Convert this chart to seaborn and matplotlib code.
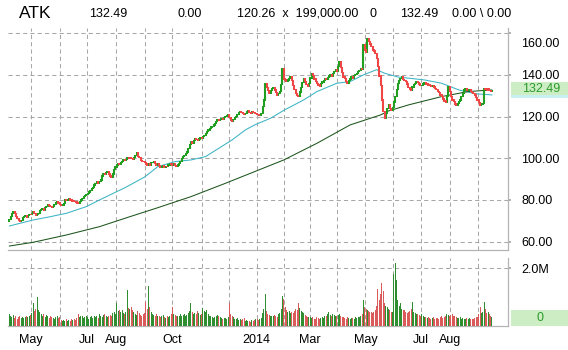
import numpy as np
import pandas as pd
import matplotlib
matplotlib.use("Agg")
import matplotlib.pyplot as plt
from matplotlib.patches import Rectangle
from matplotlib.transforms import ScaledTranslation
import seaborn as sns

# ---------------- data ----------------
ticker = "ATK"
header_values = ["132.49", "0.00", "120.26  x  199,000.00", "0", "132.49", "0.00 \\ 0.00"]
last_price = 132.49
last_volume = 0

holidays = ["2013-05-27", "2013-07-04", "2013-09-02", "2013-11-28", "2013-12-25",
            "2014-01-01", "2014-01-20", "2014-02-17", "2014-04-18", "2014-05-26",
            "2014-07-04", "2014-09-01"]

close_apr13 = [70.5, 72.0, 73.5, 74.3, 73.6, 72.2, 71.0, 70.2, 69.6, 70.3, 71.5, 72.0, 72.6, 71.8, 72.5, 73.2, 73.0]
close_may13 = [73.6, 74.2, 73.5, 72.8, 73.0, 73.4, 74.8, 75.5, 76.0, 75.2, 76.4, 77.0, 77.6, 77.2, 76.8, 76.3, 77.0, 77.8, 78.5, 79.0, 78.6, 78.0]
close_jun13 = [77.5, 77.6, 78.4, 80.0, 79.6, 80.2, 80.5, 80.0, 79.5, 79.8, 79.3, 79.0, 78.6, 78.4, 79.2, 80.0, 80.8, 81.6, 82.0, 82.6]
close_jul13 = [83.0, 83.8, 84.5, 85.6, 86.0, 87.2, 87.8, 88.8, 88.2, 89.0, 89.6, 91.5, 92.8, 92.2, 93.0, 93.6, 92.4, 91.5, 91.0, 92.5, 94.5, 95.8]
close_aug13 = [96.8, 97.5, 97.0, 98.0, 98.4, 99.2, 98.8, 99.5, 100.2, 99.8, 100.5, 100.0, 99.5, 100.4, 101.5, 102.8, 101.0, 100.2, 99.0, 98.5, 98.4, 97.8]
close_sep13 = [97.2, 96.8, 97.5, 96.5, 97.8, 98.0, 98.4, 97.6, 96.8, 97.2, 96.4, 95.8, 96.0, 96.5, 95.6, 96.2, 96.0, 96.8, 97.6, 97.2]
close_oct13 = [96.5, 97.2, 96.6, 96.0, 96.8, 97.5, 98.6, 100.0, 100.8, 101.5, 102.2, 103.0, 104.8, 106.5, 108.0, 107.2, 108.4, 109.6, 109.0, 108.6, 109.2, 110.0, 109.6]
close_nov13 = [110.4, 111.0, 112.0, 112.8, 113.6, 114.2, 115.0, 115.4, 116.0, 116.8, 117.6, 118.4, 118.0, 118.6, 119.0, 118.5, 119.4, 120.2, 120.5, 120.8]
close_dec13 = [119.5, 118.2, 117.6, 118.5, 119.4, 120.0, 121.0, 121.8, 122.4, 122.0, 121.5, 121.2, 121.6, 122.3, 122.8, 122.0, 121.6, 122.2, 122.0, 121.4, 121.6]
close_jan14 = [121.0, 120.5, 120.8, 121.5, 124.8, 128.0, 136.0, 134.0, 132.5, 131.0, 132.4, 133.6, 134.0, 132.8, 131.6, 130.4, 131.2, 132.0, 135.5, 143.0, 138.0]
close_feb14 = [137.5, 136.8, 137.6, 138.4, 139.0, 137.2, 135.0, 133.0, 131.0, 130.2, 129.6, 131.8, 134.0, 136.5, 138.4, 136.8, 135.5, 134.4, 136.0]
close_mar14 = [138.5, 140.8, 139.6, 138.0, 137.0, 136.0, 135.2, 134.4, 135.8, 136.6, 137.2, 138.4, 137.8, 138.8, 139.5, 140.0, 139.2, 140.6, 141.8, 142.4, 141.6]
close_apr14 = [144.0, 146.4, 143.5, 141.0, 139.0, 138.2, 137.0, 136.0, 137.2, 138.0, 139.0, 138.4, 139.6, 140.2, 140.8, 141.5, 142.2, 143.0, 142.6, 154.4, 152.0]
close_may14 = [151.0, 157.6, 156.0, 154.8, 153.6, 152.0, 151.5, 150.4, 148.0, 144.0, 139.5, 135.0, 128.0, 122.4, 119.0, 121.5, 124.0, 125.6, 124.0, 123.0, 124.5]
close_jun14 = [127.0, 129.6, 133.0, 136.0, 137.2, 138.4, 139.0, 137.8, 137.2, 136.8, 135.6, 134.0, 133.2, 132.8, 134.2, 135.4, 136.0, 136.8, 136.2, 135.6, 135.0]
close_jul14 = [135.0, 135.6, 136.2, 135.4, 136.0, 135.2, 134.8, 134.4, 135.0, 134.2, 133.6, 133.0, 132.2, 131.5, 130.4, 129.6, 128.4, 127.5, 127.0, 129.5, 134.4, 132.0]
close_aug14 = [129.5, 128.0, 127.2, 126.0, 125.6, 126.4, 127.2, 128.0, 129.5, 131.0, 132.8, 133.4, 132.6, 132.8, 133.0, 132.2, 131.6, 131.0, 130.4, 129.2, 128.0]
close_sep14 = [126.8, 125.6, 126.0, 126.4, 133.6, 133.2, 132.8, 133.4, 132.6, 132.0, 132.49]

# volume in thousands of shares
vol_apr13 = [420, 350, 300, 380, 290, 330, 260, 310, 350, 280, 300, 270, 320, 360, 300, 340, 380]
vol_may13 = [450, 785, 520, 600, 1000, 550, 480, 400, 350, 420, 300, 380, 330, 290, 350, 310, 280, 260, 300, 340, 280, 320]
vol_jun13 = [200, 180, 220, 160, 240, 190, 210, 170, 230, 200, 260, 220, 280, 400, 300, 350, 330, 280, 310, 360]
vol_jul13 = [320, 250, 300, 350, 280, 330, 300, 360, 290, 400, 340, 310, 380, 420, 350, 300, 330, 390, 360, 450, 500, 430]
vol_aug13 = [785, 520, 560, 480, 540, 450, 420, 500, 1250, 620, 580, 670, 560, 480, 420, 390, 520, 440, 380, 360, 410, 450]
vol_sep13 = [850, 600, 1400, 650, 480, 420, 380, 350, 400, 330, 360, 300, 340, 380, 320, 290, 350, 310, 360, 400]
vol_oct13 = [670, 420, 380, 350, 330, 360, 400, 340, 380, 420, 360, 390, 450, 520, 785, 480, 430, 440, 400, 520, 460, 380, 420]
vol_nov13 = [610, 520, 480, 550, 420, 360, 340, 300, 270, 320, 350, 380, 330, 300, 280, 260, 290, 270, 250, 300]
vol_dec13 = [785, 420, 350, 300, 260, 240, 280, 220, 250, 200, 230, 270, 180, 210, 190, 160, 150, 200, 170, 220, 240]
vol_jan14 = [250, 200, 230, 280, 450, 600, 1100, 520, 400, 380, 350, 330, 360, 380, 340, 320, 400, 450, 600, 1050, 950]
vol_feb14 = [650, 550, 480, 520, 440, 500, 460, 520, 600, 560, 785, 640, 520, 480, 440, 380, 350, 300, 320]
vol_mar14 = [300, 280, 320, 260, 240, 300, 280, 250, 270, 310, 290, 330, 350, 420, 500, 380, 360, 400, 380, 350, 330]
vol_apr14 = [380, 420, 350, 300, 320, 280, 260, 300, 280, 250, 270, 290, 260, 300, 280, 320, 300, 350, 400, 900, 650]
vol_may14 = [600, 550, 520, 500, 480, 450, 500, 550, 700, 1300, 900, 1100, 1500, 1200, 800, 700, 650, 600, 550, 500, 480]
vol_jun14 = [1800, 2200, 1600, 900, 700, 785, 600, 550, 550, 480, 450, 500, 520, 600, 850, 500, 450, 400, 420, 380, 350]
vol_jul14 = [400, 350, 300, 320, 280, 300, 270, 260, 280, 300, 250, 270, 290, 260, 300, 330, 280, 320, 350, 400, 380, 330]
vol_aug14 = [380, 400, 350, 330, 300, 280, 270, 300, 260, 280, 250, 240, 270, 260, 280, 250, 230, 260, 280, 300, 320]
vol_sep14 = [400, 670, 450, 500, 850, 600, 450, 500, 400, 350, 300]

# moving averages (session number, value)
ma50_day = [0, 8, 18, 31, 43, 58, 68, 81, 87, 102, 112, 125, 137, 148, 158, 168, 178, 185,
            197, 207, 222, 232, 247, 257, 267, 277, 283, 293, 313, 326, 339, 351, 364]
ma50_val = [67.5, 68.8, 70.4, 72.0, 73.6, 76.8, 80.0, 84.0, 85.8, 91.0, 96.0, 98.4, 99.2, 100.8, 104.8, 108.8, 113.6, 116.0,
            119.2, 123.0, 128.0, 132.0, 136.0, 136.8, 140.0, 142.5, 140.8, 139.0, 137.6, 136.0, 132.8, 131.0, 130.4]
ma200_day = [0, 18, 43, 68, 91, 112, 137, 163, 185, 207, 232, 257, 280, 286, 301, 326, 346, 364]
ma200_val = [57.9, 59.7, 63.2, 67.2, 72.0, 76.3, 81.6, 88.0, 93.6, 99.2, 107.2, 116.0, 120.8, 122.7, 125.6, 129.6, 132.0, 132.8]

month_labels = ["May", "", "Jul", "Aug", "", "Oct", "", "", "2014", "", "Mar", "", "May", "", "Jul", "Aug", ""]
price_ticks = [60, 80, 100, 120, 140, 160]

# ---------------- build ----------------
closes = np.array(close_apr13 + close_may13 + close_jun13 + close_jul13 + close_aug13 + close_sep13
                  + close_oct13 + close_nov13 + close_dec13 + close_jan14 + close_feb14 + close_mar14
                  + close_apr14 + close_may14 + close_jun14 + close_jul14 + close_aug14 + close_sep14)
vols = np.array(vol_apr13 + vol_may13 + vol_jun13 + vol_jul13 + vol_aug13 + vol_sep13
                + vol_oct13 + vol_nov13 + vol_dec13 + vol_jan14 + vol_feb14 + vol_mar14
                + vol_apr14 + vol_may14 + vol_jun14 + vol_jul14 + vol_aug14 + vol_sep14) * 1000.0

dates = pd.bdate_range("2013-04-08", "2014-09-16")
dates = dates[~dates.isin(pd.to_datetime(holidays))]
n = len(closes)
dates = dates[:n]
idx = np.arange(n)
opens = np.concatenate([[closes[0] - 0.8], closes[:-1]])
up = closes >= opens

GREEN = "#1f9e1f"
RED = "#f04646"
GRID = "#a8a8a8"
SPINE = "#b4b4b4"

df = pd.DataFrame({"session": idx, "open": opens, "close": closes, "volume": vols,
                   "dir": np.where(up, "up", "down")})

month_start = [i for i in range(1, n) if dates[i].month != dates[i - 1].month]

sns.set_theme(style="white")
plt.rcParams["font.family"] = ["Liberation Sans", "DejaVu Sans"]

W, H = 568, 350
fig = plt.figure(figsize=(W / 100, H / 100), dpi=100)
fig.patch.set_facecolor("white")

def px_box(l, t, r, b):
    return [l / W, (H - b) / H, (r - l) / W, (b - t) / H]

ax = fig.add_axes(px_box(8, 28, 507.5, 250))
axv = fig.add_axes(px_box(8, 258, 507.5, 326), sharex=ax)

dash = (0, (4, 3))
for a in (ax, axv):
    for s in ("left", "top"):
        a.spines[s].set_visible(False)
    for s in ("right", "bottom"):
        a.spines[s].set_color(SPINE)
        a.spines[s].set_linewidth(0.9)
    a.set_facecolor("white")
    a.yaxis.tick_right()
    a.tick_params(axis="y", length=2, color=GRID, pad=8, labelsize=9, labelcolor="black")
    a.tick_params(axis="x", length=0, pad=6, labelsize=9, labelcolor="black")
    for m in month_start:
        a.axvline(m - 0.5, color=GRID, lw=0.75, ls=dash, zorder=0)

# price panel
for p in price_ticks:
    ax.axhline(p, color=GRID, lw=0.75, ls=dash, zorder=0)
ax.vlines(df.loc[up, "session"], df.loc[up, "open"] - 0.3, df.loc[up, "close"] + 0.3, color=GREEN, lw=1.5, zorder=3)
ax.vlines(df.loc[~up, "session"], df.loc[~up, "close"] - 0.3, df.loc[~up, "open"] + 0.3, color=RED, lw=1.5, zorder=3)
sns.lineplot(x=ma50_day, y=ma50_val, color="#3cb4c4", lw=0.75, ax=ax, zorder=2)
sns.lineplot(x=ma200_day, y=ma200_val, color="#1c551c", lw=0.75, ax=ax, zorder=2)
ax.set_xlim(-0.98, 375.7)
ax.set_ylim(56.0, 162.5)
ax.set_yticks(price_ticks)
ax.set_yticklabels([f"{p:.2f}" for p in price_ticks])
lab160 = ax.get_yticklabels()[-1]
lab160.set_transform(lab160.get_transform() + ScaledTranslation(0, -9.5 / 100, fig.dpi_scale_trans))
ax.tick_params(axis="x", labelbottom=False)
ax.set_xlabel("")
ax.set_ylabel("")

# volume panel
axv.axhline(2.0e6, color=GRID, lw=0.75, ls=dash, zorder=0)
sns.barplot(data=df, x="session", y="volume", hue="dir", palette={"up": GREEN, "down": RED},
            dodge=False, native_scale=True, width=0.75, errorbar=None, legend=False,
            linewidth=0, ax=axv, zorder=3)
axv.set_xlim(-0.98, 375.7)
axv.set_ylim(0, 2.36e6)
axv.set_yticks([2.0e6])
axv.set_yticklabels(["2.0M"])
axv.set_xticks([m - 0.5 for m in month_start])
axv.set_xticklabels(month_labels[:len(month_start)])
axv.set_xlabel("")
axv.set_ylabel("")

# right-side value boxes
fig.add_artist(Rectangle((511 / W, (H - 98) / H), 57 / W, 10 / H, transform=fig.transFigure,
                         facecolor="#c8f0f0", edgecolor="none"))
fig.add_artist(Rectangle((511 / W, (H - 95) / H), 57 / W, 13 / H, transform=fig.transFigure,
                         facecolor="#cdeec4", edgecolor="none"))
fig.text(541 / W, (H - 89.5) / H, f"{last_price:.2f}", color="#2b9a2b", fontsize=9, ha="center", va="center")
fig.add_artist(Rectangle((511 / W, (H - 326) / H), 57 / W, 16 / H, transform=fig.transFigure,
                         facecolor="#cdeec4", edgecolor="none"))
fig.text(540 / W, (H - 318) / H, f"{last_volume}", color="#2b9a2b", fontsize=9, ha="center", va="center")

# header
fig.text(19 / W, (H - 14) / H, ticker, fontsize=12.5, ha="left", va="center", color="black")
for xpos, t in zip([89, 177.5, 237, 370, 400, 452], header_values):
    fig.text(xpos / W, (H - 14) / H, t, fontsize=9, ha="left", va="center", color="black")

fig.savefig("out.png", dpi=100, facecolor="white")
